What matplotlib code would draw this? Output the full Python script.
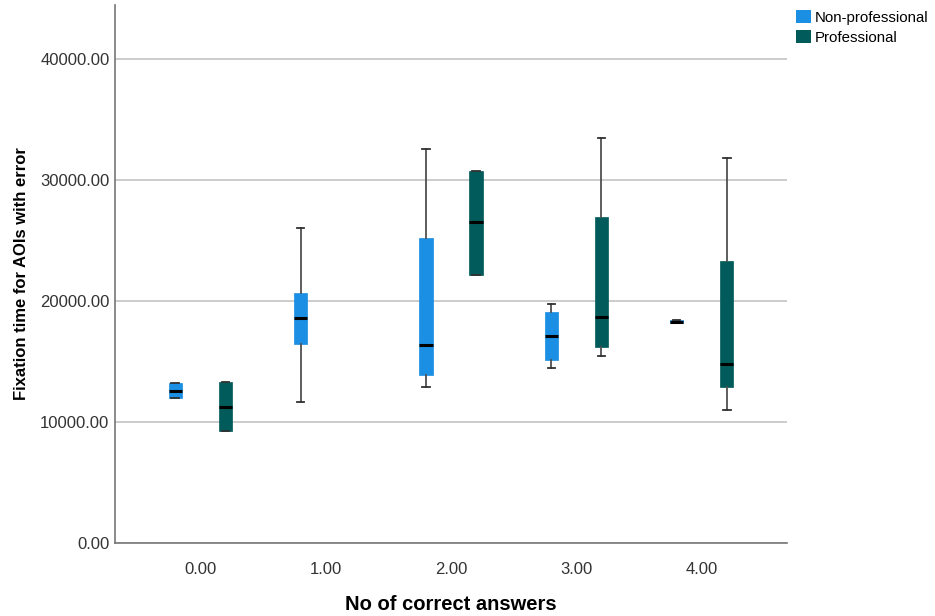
import matplotlib.pyplot as plt
from matplotlib.patches import Patch

categories = [0, 1, 2, 3, 4]
tick_labels = ['0.00', '1.00', '2.00', '3.00', '4.00']
groups = ['Non-professional', 'Professional']
colors = ['#1a8fe3', '#005b5a']

# box stats (None = no box for that group)
# order: whisker low, q1, median, q3, whisker high
nonpro = [
    [12000, 12000, 12570, 13230, 13230],
    [11640, 16430, 18570, 20680, 26020],
    [12880, 13890, 16380, 25200, 32600],
    [14490, 15120, 17120, 19090, 19800],
    [18200, 18200, 18310, 18420, 18420],
]
pro = [
    [9290, 9290, 11260, 13310, 13310],
    None,
    [22130, 22130, 26520, 30810, 30810],
    [15500, 16210, 18730, 26950, 33470],
    [11010, 12900, 14790, 23340, 31880],
]

plt.rcParams['font.family'] = ['Liberation Sans', 'DejaVu Sans']

fig = plt.figure(figsize=(9.35, 6.16), dpi=100)
ax = fig.add_axes([115 / 935, 73 / 616, 672 / 935, 538 / 616])

offsets = [-0.2, 0.2]
for g, data in enumerate([nonpro, pro]):
    stats = []
    pos = []
    for c, d in zip(categories, data):
        if d is None:
            continue
        stats.append(dict(whislo=d[0], q1=d[1], med=d[2], q3=d[3], whishi=d[4], fliers=[]))
        pos.append(c + offsets[g])
    ax.bxp(stats, positions=pos, widths=0.105, patch_artist=True, capwidths=0.06,
           boxprops=dict(facecolor=colors[g], edgecolor=colors[g], linewidth=0.5),
           medianprops=dict(color='black', linewidth=2.2),
           whiskerprops=dict(color='#505050', linewidth=1.3),
           capprops=dict(color='#303030', linewidth=1.3),
           showfliers=False, zorder=3)

ax.set_xlim(-0.68, 4.68)
ax.set_ylim(0, 44500)
ax.set_xticks(categories)
ax.set_xticklabels(tick_labels)
ax.set_yticks([0, 10000, 20000, 30000, 40000])
ax.set_yticklabels(['0.00', '10000.00', '20000.00', '30000.00', '40000.00'])
ax.tick_params(axis='both', labelsize=12, labelcolor='#333333', length=0)
ax.tick_params(axis='x', pad=14)
ax.tick_params(axis='y', pad=4)
ax.grid(axis='y', color='#c8c8c8', linewidth=1.3, zorder=0)
ax.set_axisbelow(True)
for s in ['top', 'right']:
    ax.spines[s].set_visible(False)
for s in ['left', 'bottom']:
    ax.spines[s].set_color('#777777')
    ax.spines[s].set_linewidth(1.2)

ax.set_xlabel('No of correct answers', fontsize=14.5, fontweight='bold', labelpad=13)
ax.set_ylabel('Fixation time for AOIs with error', fontsize=12, fontweight='bold', labelpad=8)

handles = [Patch(facecolor=colors[i], edgecolor='none', label=groups[i]) for i in range(2)]
fig.legend(handles=handles, loc='upper left', bbox_to_anchor=(786 / 935, 1.0), frameon=False,
           fontsize=10.8, handlelength=1.0, handleheight=1.0, handletextpad=0.25,
           labelspacing=0.35, borderaxespad=0.25)

fig.savefig('out.png', dpi=100)
